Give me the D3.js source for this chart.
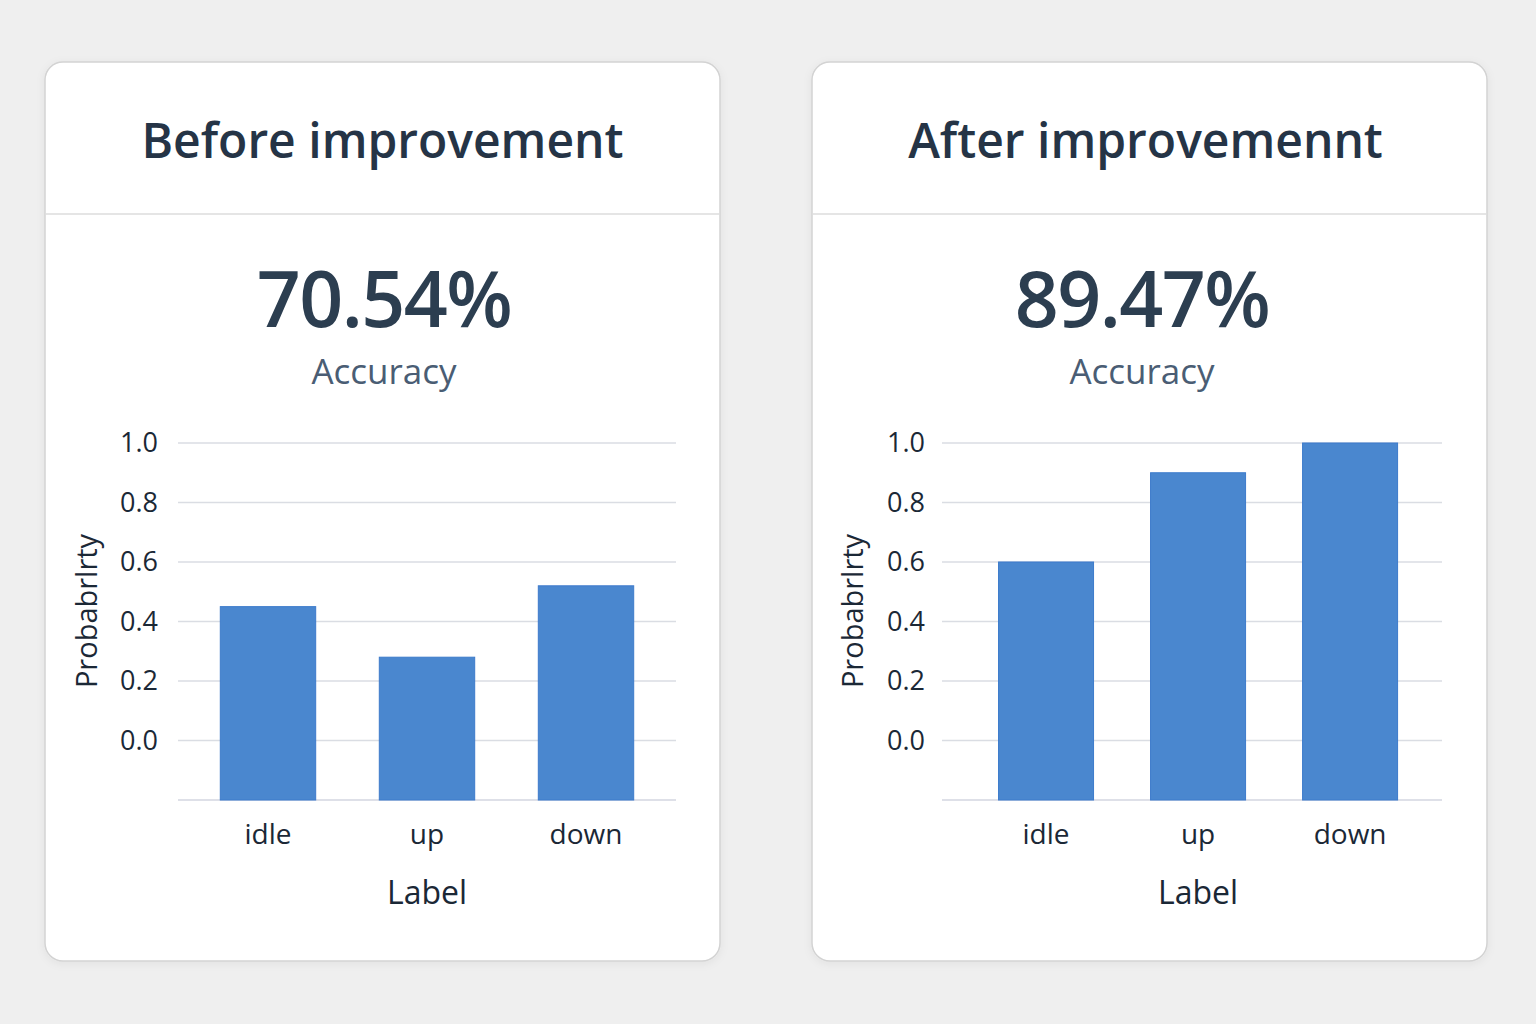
<!DOCTYPE html>
<html>
<head>
<meta charset="utf-8">
<script src="https://cdn.jsdelivr.net/npm/d3@7/dist/d3.min.js"></script>
<style>
  html, body { margin: 0; padding: 0; background: #efefef; }
  svg { display: block; }
</style>
</head>
<body>
<svg id="chart" width="1536" height="1024"></svg>
<script>
// ---- data ----
const categories = ["idle", "up", "down"];
const beforeValues = [0.45, 0.28, 0.52];
const afterValues = [0.60, 0.90, 1.00];
const panelTitles = ["Before improvement", "After improvemennt"];
const accuracies = ["70.54%", "89.47%"];
const yTicks = [0.0, 0.2, 0.4, 0.6, 0.8, 1.0];
const xAxisTitle = "Label";
const yAxisTitle = "Probabrlrty";
const metricLabel = "Accuracy";

const svg = d3.select("#chart");
const font = "'Open Sans', 'Noto Sans', sans-serif";

const defs = svg.append("defs");
const f = defs.append("filter").attr("id", "shadow").attr("x", "-5%").attr("y", "-5%").attr("width", "110%").attr("height", "110%");
f.append("feDropShadow").attr("dx", 0).attr("dy", 2).attr("stdDeviation", 4).attr("flood-color", "#000").attr("flood-opacity", 0.06);

const panels = [
  { x: 45, w: 675, values: beforeValues, gx0: 178, gx1: 676, pi: 0.4, po: 0.266, align: 0.5, yLabX: 158, yTitleX: 87, titleDx: 0, numDx: 1.5 },
  { x: 812, w: 675, values: afterValues, gx0: 942, gx1: 1442, pi: 0.375, po: 0.332, align: 0.56, yLabX: 925, yTitleX: 853, titleDx: -4, numDx: -7.5 }
];

panels.forEach((p, i) => {
  const g = svg.append("g");
  const cx = p.x + p.w / 2;
  // card
  g.append("rect").attr("x", p.x).attr("y", 62).attr("width", p.w).attr("height", 899)
    .attr("rx", 18).attr("fill", "#ffffff").attr("stroke", "#d3d3d3").attr("stroke-width", 1.5)
    .attr("filter", "url(#shadow)");
  g.append("line").attr("x1", p.x).attr("x2", p.x + p.w).attr("y1", 214).attr("y2", 214)
    .attr("stroke", "#dcdcdc").attr("stroke-width", 1.5);
  g.append("text").attr("x", cx + p.titleDx).attr("y", 158).attr("text-anchor", "middle")
    .attr("font-family", font).attr("font-size", 48).attr("font-weight", 600)
    .attr("fill", "#253446").text(panelTitles[i]);
  g.append("text").attr("x", cx + p.numDx).attr("y", 327).attr("text-anchor", "middle")
    .attr("font-family", font).attr("font-size", 77).attr("font-weight", 600)
    .attr("fill", "#2c3e50").attr("letter-spacing", -1.5).text(accuracies[i]);
  g.append("text").attr("x", cx + p.numDx).attr("y", 384).attr("text-anchor", "middle")
    .attr("font-family", font).attr("font-size", 35)
    .attr("fill", "#4a5d74").text(metricLabel);

  // scales
  const y = d3.scaleLinear().domain([-0.2, 1.0]).range([800, 443]);
  const x = d3.scaleBand().domain(categories).range([p.gx0, p.gx1])
    .paddingInner(p.pi).paddingOuter(p.po).align(p.align);

  // gridlines
  g.selectAll(".grid").data(yTicks).enter().append("line")
    .attr("x1", p.gx0).attr("x2", p.gx1)
    .attr("y1", d => y(d)).attr("y2", d => y(d))
    .attr("stroke", "#dadde3").attr("stroke-width", 1.5);
  // baseline
  g.append("line").attr("x1", p.gx0).attr("x2", p.gx1)
    .attr("y1", y(-0.2)).attr("y2", y(-0.2))
    .attr("stroke", "#d3d6e0").attr("stroke-width", 1.5);

  // y tick labels
  g.selectAll(".ytl").data(yTicks).enter().append("text")
    .attr("x", p.yLabX).attr("y", d => y(d)).attr("dy", "0.35em")
    .attr("text-anchor", "end").attr("font-family", font).attr("font-size", 27)
    .attr("fill", "#1b2836").text(d => d3.format(".1f")(d));

  // y title
  g.append("text").attr("transform", `translate(${p.yTitleX},611) rotate(-90)`)
    .attr("text-anchor", "middle").attr("dy", "0.35em")
    .attr("font-family", font).attr("font-size", 29)
    .attr("fill", "#1b2836").text(yAxisTitle);

  // bars
  g.selectAll(".bar").data(p.values).enter().append("rect")
    .attr("x", (d, j) => x(categories[j]))
    .attr("width", x.bandwidth())
    .attr("y", d => y(d))
    .attr("height", d => y(-0.2) - y(d))
    .attr("fill", "#4a87cf").attr("stroke", "#3d7bcb").attr("stroke-width", 1);

  // x tick labels
  g.selectAll(".xtl").data(categories).enter().append("text")
    .attr("x", d => x(d) + x.bandwidth() / 2).attr("y", 844)
    .attr("text-anchor", "middle").attr("font-family", font).attr("font-size", 28)
    .attr("fill", "#1b2836").text(d => d);

  // x title, centred under the middle category
  g.append("text").attr("x", x(categories[1]) + x.bandwidth() / 2).attr("y", 904)
    .attr("text-anchor", "middle").attr("font-family", font).attr("font-size", 32)
    .attr("fill", "#1b2836").text(xAxisTitle);
});
</script>
</body>
</html>
